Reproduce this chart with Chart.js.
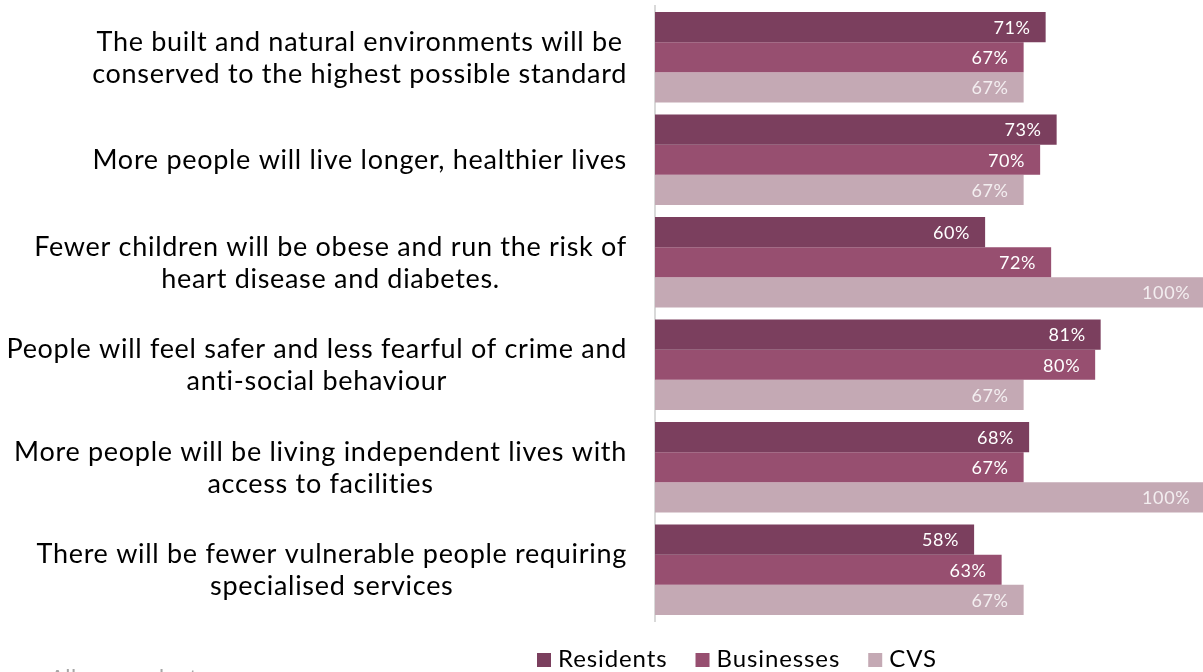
<!DOCTYPE html>
<html>
<head>
<meta charset="utf-8">
<script src="https://cdn.jsdelivr.net/npm/chart.js@4"></script>
<style>
  html, body { margin: 0; padding: 0; background: #ffffff; }
  #wrap { width: 1203px; height: 672px; position: relative; }
</style>
</head>
<body>
<div id="wrap"><canvas id="c" width="1203" height="672"></canvas></div>
<script>
// Outcome statements (one entry per group, lines split for wrapping)
const categories = [
  ['The built and natural environments will be', 'conserved to the highest possible standard'],
  ['More people will live longer, healthier lives'],
  ['Fewer children will be obese and run the risk of', 'heart disease and diabetes.'],
  ['People will feel safer and less fearful of crime and', 'anti-social behaviour'],
  ['More people will be living independent lives with', 'access to facilities'],
  ['There will be fewer vulnerable people requiring', 'specialised services']
];

const seriesNames = ['Residents', 'Businesses', 'CVS'];
const residents  = [71, 73, 60, 81, 68, 58];
const businesses = [67, 70, 72, 80, 67, 63];
const cvs        = [67, 67, 100, 67, 100, 67];
const footnote = 'All respondents';

const colors = ['#7b3f5e', '#974f70', '#c4a9b4'];
const labelColors = ['#ffffff', '#ffffff', '#f3eef0'];
const FONT = 'Lato, "Open Sans", sans-serif';

// Category labels: block right-aligned against the axis, lines centred within the block
const categoryLabels = {
  id: 'categoryLabels',
  afterDraw(chart) {
    const ctx = chart.ctx;
    const y = chart.scales.y;
    const right = chart.chartArea.left - 28;
    ctx.save();
    ctx.font = '27px ' + FONT;
    ctx.letterSpacing = '0.7px';
    ctx.fillStyle = '#000000';
    ctx.textBaseline = 'middle';
    ctx.textAlign = 'center';
    const lh = 32;
    categories.forEach((lines, i) => {
      const cy = y.getPixelForTick(i) + 1;
      const w = Math.max(...lines.map(l => ctx.measureText(l).width));
      const cx = right - w / 2;
      lines.forEach((l, j) => {
        ctx.fillText(l, cx, cy + (j - (lines.length - 1) / 2) * lh);
      });
    });
    ctx.restore();
  }
};

// Value labels inside the end of each bar
const valueLabels = {
  id: 'valueLabels',
  afterDatasetsDraw(chart) {
    const ctx = chart.ctx;
    ctx.save();
    ctx.font = '18px ' + FONT;
    ctx.letterSpacing = '0.6px';
    ctx.textAlign = 'right';
    ctx.textBaseline = 'middle';
    chart.data.datasets.forEach((ds, di) => {
      const meta = chart.getDatasetMeta(di);
      ctx.fillStyle = labelColors[di];
      meta.data.forEach((bar, i) => {
        ctx.fillText(ds.data[i] + '%', bar.x - 15, bar.y + 1);
      });
    });
    ctx.restore();
  }
};

// Legend row and footnote along the bottom
const bottomLegend = {
  id: 'bottomLegend',
  afterDraw(chart) {
    const ctx = chart.ctx;
    ctx.save();
    ctx.font = '24px ' + FONT;
    ctx.letterSpacing = '0.9px';
    ctx.textBaseline = 'alphabetic';
    ctx.textAlign = 'left';
    let x = 537;
    const top = 653;
    chart.data.datasets.forEach((ds, di) => {
      ctx.fillStyle = ds.backgroundColor;
      ctx.fillRect(x, top, 14, 14);
      x += 21;
      ctx.fillStyle = '#000000';
      ctx.fillText(ds.label, x, 667);
      x += ctx.measureText(ds.label).width + 28;
    });
    ctx.fillStyle = '#a6a6a6';
    ctx.font = '22px ' + FONT;
    ctx.letterSpacing = '0.5px';
    ctx.textBaseline = 'top';
    ctx.fillText(footnote, 50, 667);
    ctx.restore();
  }
};

new Chart(document.getElementById('c'), {
  type: 'bar',
  data: {
    labels: categories,
    datasets: [
      { label: seriesNames[0], data: residents,  backgroundColor: colors[0] },
      { label: seriesNames[1], data: businesses, backgroundColor: colors[1] },
      { label: seriesNames[2], data: cvs,        backgroundColor: colors[2] }
    ]
  },
  options: {
    indexAxis: 'y',
    responsive: false,
    animation: false,
    devicePixelRatio: 1,
    layout: { padding: { left: 654, right: 0, top: 6, bottom: 51 } },
    datasets: { bar: { barPercentage: 1, categoryPercentage: 0.885, borderWidth: 0 } },
    scales: {
      // full-width bars run slightly past the right edge of the page
      x: { display: false, min: 0, max: 99.6 },
      y: {
        display: true,
        ticks: { display: false },
        grid: { display: false, drawTicks: false },
        border: { display: true, color: '#d9d9d9', width: 2 },
        afterFit(s) { s.width = 1; }
      }
    },
    plugins: {
      legend: { display: false },
      tooltip: { enabled: false }
    }
  },
  plugins: [categoryLabels, valueLabels, bottomLegend]
});
</script>
</body>
</html>
